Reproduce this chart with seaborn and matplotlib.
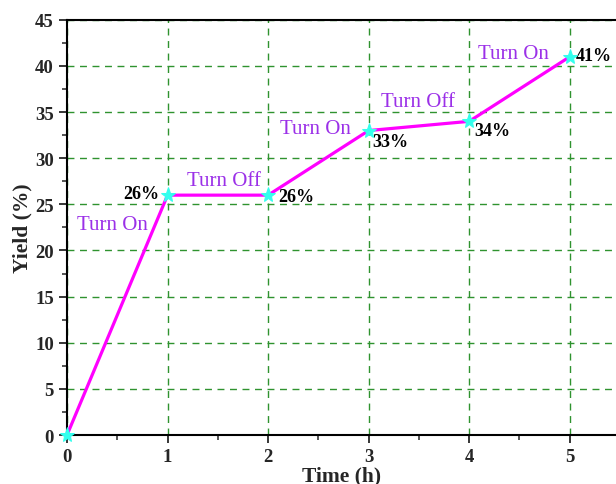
import numpy as np
import pandas as pd
import matplotlib
matplotlib.use("Agg")
import matplotlib.pyplot as plt
import seaborn as sns
from matplotlib.ticker import MultipleLocator

# Veriler
zaman = [0, 1, 2, 3, 4, 5]
verim = [0, 26, 26, 33, 34, 41]
yuzde_etiketleri = ["26%", "26%", "33%", "34%", "41%"]
yuzde_konum = [(0.92, 26.2, "right"), (2.1, 25.8, "left"), (3.04, 31.8, "left"),
               (4.05, 33.0, "left"), (5.06, 41.1, "left")]
durum_etiketleri = ["Turn On", "Turn Off", "Turn On", "Turn Off", "Turn On"]
durum_konum = [(0.45, 22.8), (1.56, 27.6), (2.47, 33.2), (3.49, 36.2), (4.44, 41.3)]

sns.set_style("white")
plt.rcParams["font.family"] = ["Liberation Serif", "DejaVu Serif"]

fig = plt.figure(figsize=(6.16, 4.85), dpi=100)
ax = fig.add_axes([0.1088, 0.101, 0.8912, 0.856])

df = pd.DataFrame({"Time": zaman, "Yield": verim})
sns.lineplot(data=df, x="Time", y="Yield", ax=ax, color="#ff00ff", linewidth=2.3,
             marker="*", markersize=11, markerfacecolor="#33ffee",
             markeredgecolor="#33ffee", clip_on=False, zorder=5)

ax.set_xlim(0, 5.46)
ax.set_ylim(0, 45)
ax.xaxis.set_major_locator(MultipleLocator(1))
ax.xaxis.set_minor_locator(MultipleLocator(0.5))
ax.yaxis.set_major_locator(MultipleLocator(5))
ax.yaxis.set_minor_locator(MultipleLocator(2.5))
ax.grid(True, which="major", color="#2f932f", linestyle=(0, (5, 4)), linewidth=1.0)

for s in ["left", "bottom", "top"]:
    ax.spines[s].set_color("black")
    ax.spines[s].set_linewidth(1.5)
ax.spines["right"].set_visible(False)

ax.tick_params(axis="both", which="major", direction="out", length=6, width=1.3,
               labelsize=13.5, bottom=True, left=True)
ax.tick_params(axis="both", which="minor", direction="out", length=3.5, width=1.1,
               bottom=True, left=True)
for lbl in ax.get_xticklabels() + ax.get_yticklabels():
    lbl.set_fontweight("bold")

ax.set_xlabel("Time (h)", fontsize=15.5, fontweight="bold", labelpad=0)
ax.set_ylabel("Yield (%)", fontsize=15.5, fontweight="bold", labelpad=2)

for metin, (x, y, ha) in zip(yuzde_etiketleri, yuzde_konum):
    ax.text(x, y, metin, fontsize=13, fontweight="bold", ha=ha, va="center", color="black")

for metin, (x, y) in zip(durum_etiketleri, durum_konum):
    ax.text(x, y, metin, fontsize=15, ha="center", va="center", color="#9b30e8")

fig.savefig("out.png", dpi=100)
